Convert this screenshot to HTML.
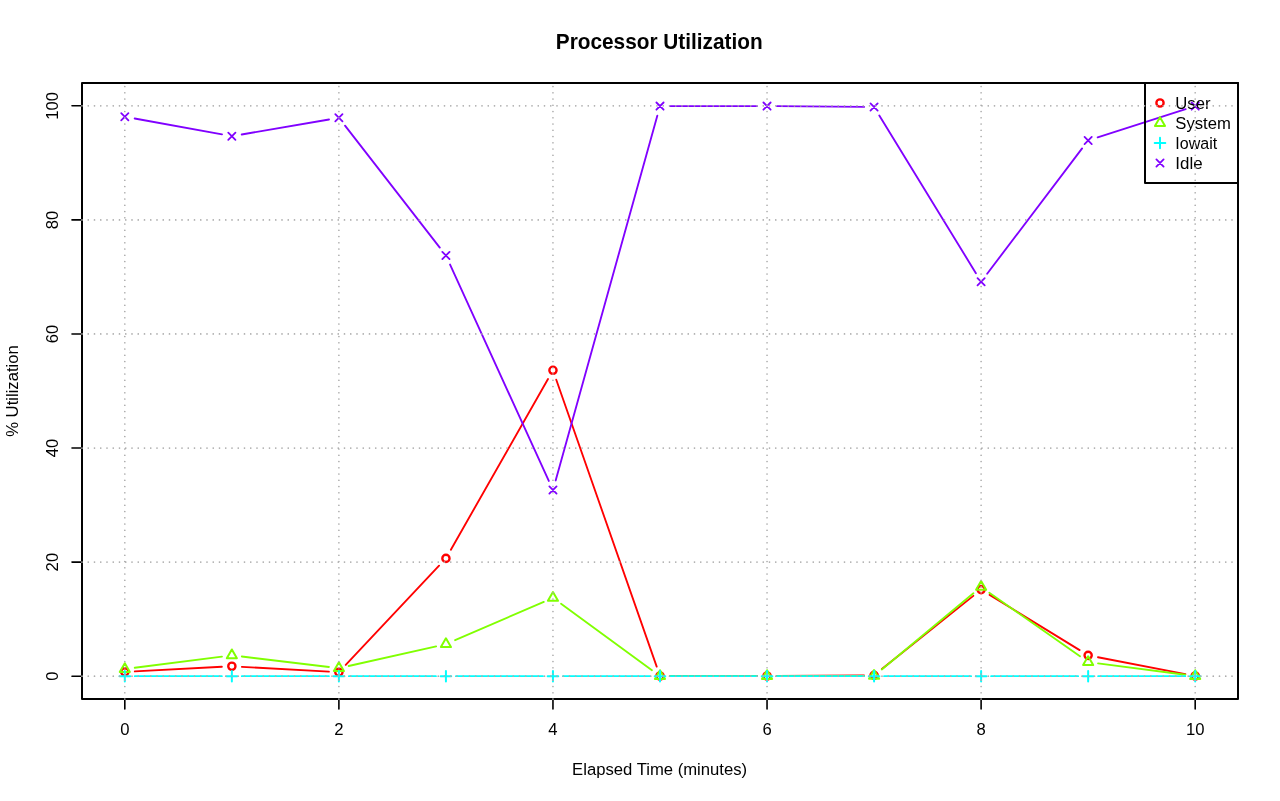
<!DOCTYPE html>
<html><head><meta charset="utf-8"><title>Processor Utilization</title>
<style>
html,body{margin:0;padding:0;background:#fff;}
svg{display:block;will-change:transform;opacity:0.999;}
text{font-family:"Liberation Sans",sans-serif;fill:#000;}
</style></head><body>
<svg width="1280" height="801" viewBox="0 0 1280 801">
<rect width="1280" height="801" fill="#fff"/>
<path d="M134.80 671.38L221.87 666.79M241.84 666.81L328.90 671.64M345.74 664.91L439.07 565.69M450.87 549.71L548.02 378.99M556.27 379.73L656.70 666.58M670.00 676.01L757.04 676.01M777.04 675.95L864.07 675.39M881.88 669.08L973.31 595.85M989.63 594.84L1079.63 650.13M1097.97 657.26L1185.37 674.12" fill="none" stroke="#FF0000" stroke-width="1.85" stroke-linecap="round"/>
<circle cx="124.81" cy="671.91" r="3.62" fill="none" stroke="#FF0000" stroke-width="2.35"/>
<circle cx="231.85" cy="666.26" r="3.62" fill="none" stroke="#FF0000" stroke-width="2.35"/>
<circle cx="338.89" cy="672.19" r="3.62" fill="none" stroke="#FF0000" stroke-width="2.35"/>
<circle cx="445.93" cy="558.40" r="3.62" fill="none" stroke="#FF0000" stroke-width="2.35"/>
<circle cx="552.96" cy="370.30" r="3.62" fill="none" stroke="#FF0000" stroke-width="2.35"/>
<circle cx="660.00" cy="676.01" r="3.62" fill="none" stroke="#FF0000" stroke-width="2.35"/>
<circle cx="767.04" cy="676.01" r="3.62" fill="none" stroke="#FF0000" stroke-width="2.35"/>
<circle cx="874.07" cy="675.33" r="3.62" fill="none" stroke="#FF0000" stroke-width="2.35"/>
<circle cx="981.11" cy="589.60" r="3.62" fill="none" stroke="#FF0000" stroke-width="2.35"/>
<circle cx="1088.15" cy="655.37" r="3.62" fill="none" stroke="#FF0000" stroke-width="2.35"/>
<circle cx="1195.19" cy="676.01" r="3.62" fill="none" stroke="#FF0000" stroke-width="2.35"/>
<path d="M134.73 667.78L221.93 656.58M241.78 656.51L328.96 667.00M348.65 666.01L436.17 646.38M455.10 640.22L543.79 601.84M561.04 603.77L651.93 670.17M670.00 676.07L757.04 676.07M777.04 676.06L864.07 675.92M881.76 669.51L973.42 593.31M989.29 592.67L1079.96 656.35M1098.06 663.39L1185.27 674.78" fill="none" stroke="#80FF00" stroke-width="1.85" stroke-linecap="round"/>
<path d="M124.81 663.22L129.87 671.97L119.76 671.97Z" fill="none" stroke="#80FF00" stroke-width="2.0" stroke-linejoin="round"/>
<path d="M231.85 649.48L236.90 658.23L226.80 658.23Z" fill="none" stroke="#80FF00" stroke-width="2.0" stroke-linejoin="round"/>
<path d="M338.89 662.37L343.94 671.12L333.84 671.12Z" fill="none" stroke="#80FF00" stroke-width="2.0" stroke-linejoin="round"/>
<path d="M445.93 638.36L450.98 647.10L440.88 647.10Z" fill="none" stroke="#80FF00" stroke-width="2.0" stroke-linejoin="round"/>
<path d="M552.96 592.04L558.01 600.79L547.91 600.79Z" fill="none" stroke="#80FF00" stroke-width="2.0" stroke-linejoin="round"/>
<path d="M660.00 670.24L665.05 678.99L654.95 678.99Z" fill="none" stroke="#80FF00" stroke-width="2.0" stroke-linejoin="round"/>
<path d="M767.04 670.24L772.09 678.99L761.99 678.99Z" fill="none" stroke="#80FF00" stroke-width="2.0" stroke-linejoin="round"/>
<path d="M874.07 670.07L879.12 678.82L869.02 678.82Z" fill="none" stroke="#80FF00" stroke-width="2.0" stroke-linejoin="round"/>
<path d="M981.11 581.09L986.16 589.84L976.06 589.84Z" fill="none" stroke="#80FF00" stroke-width="2.0" stroke-linejoin="round"/>
<path d="M1088.15 656.27L1093.20 665.01L1083.10 665.01Z" fill="none" stroke="#80FF00" stroke-width="2.0" stroke-linejoin="round"/>
<path d="M1195.19 670.24L1200.24 678.99L1190.13 678.99Z" fill="none" stroke="#80FF00" stroke-width="2.0" stroke-linejoin="round"/>
<path d="M134.81 676.19L221.85 676.19M241.85 676.19L328.89 676.19M348.89 676.19L435.93 676.19M455.93 676.19L542.96 676.19M562.96 676.19L650.00 676.19M670.00 676.19L757.04 676.19M777.04 676.19L864.07 676.19M884.07 676.19L971.11 676.19M991.11 676.19L1078.15 676.19M1098.15 676.19L1185.19 676.19" fill="none" stroke="#00FFFF" stroke-width="1.85" stroke-linecap="round"/>
<path d="M119.51 676.19H130.12M124.81 670.88V681.49" fill="none" stroke="#00FFFF" stroke-width="2.0" stroke-linecap="round"/>
<path d="M226.55 676.19H237.16M231.85 670.88V681.49" fill="none" stroke="#00FFFF" stroke-width="2.0" stroke-linecap="round"/>
<path d="M333.59 676.19H344.19M338.89 670.88V681.49" fill="none" stroke="#00FFFF" stroke-width="2.0" stroke-linecap="round"/>
<path d="M440.62 676.19H451.23M445.93 670.88V681.49" fill="none" stroke="#00FFFF" stroke-width="2.0" stroke-linecap="round"/>
<path d="M547.66 676.19H558.27M552.96 670.88V681.49" fill="none" stroke="#00FFFF" stroke-width="2.0" stroke-linecap="round"/>
<path d="M654.70 676.19H665.30M660.00 670.88V681.49" fill="none" stroke="#00FFFF" stroke-width="2.0" stroke-linecap="round"/>
<path d="M761.73 676.19H772.34M767.04 670.88V681.49" fill="none" stroke="#00FFFF" stroke-width="2.0" stroke-linecap="round"/>
<path d="M868.77 676.19H879.38M874.07 670.88V681.49" fill="none" stroke="#00FFFF" stroke-width="2.0" stroke-linecap="round"/>
<path d="M975.81 676.19H986.41M981.11 670.88V681.49" fill="none" stroke="#00FFFF" stroke-width="2.0" stroke-linecap="round"/>
<path d="M1082.84 676.19H1093.45M1088.15 670.88V681.49" fill="none" stroke="#00FFFF" stroke-width="2.0" stroke-linecap="round"/>
<path d="M1189.88 676.19H1200.49M1195.19 670.88V681.49" fill="none" stroke="#00FFFF" stroke-width="2.0" stroke-linecap="round"/>
<path d="M134.65 118.50L222.01 134.42M241.71 134.52L329.03 119.49M345.03 125.69L439.79 247.59M450.08 264.58L548.81 480.98M555.65 480.44L657.31 115.73M670.00 106.10L757.04 106.10M777.04 106.18L864.07 106.88M879.30 115.48L975.89 273.19M987.15 273.75L1082.11 148.41M1097.67 137.38L1185.66 109.15" fill="none" stroke="#8000FF" stroke-width="1.85" stroke-linecap="round"/>
<path d="M121.21 113.11L128.41 120.31M121.21 120.31L128.41 113.11" fill="none" stroke="#8000FF" stroke-width="1.8" stroke-linecap="round"/>
<path d="M228.25 132.62L235.45 139.82M228.25 139.82L235.45 132.62" fill="none" stroke="#8000FF" stroke-width="1.8" stroke-linecap="round"/>
<path d="M335.29 114.19L342.49 121.39M335.29 121.39L342.49 114.19" fill="none" stroke="#8000FF" stroke-width="1.8" stroke-linecap="round"/>
<path d="M442.33 251.88L449.53 259.08M442.33 259.08L449.53 251.88" fill="none" stroke="#8000FF" stroke-width="1.8" stroke-linecap="round"/>
<path d="M549.36 486.47L556.56 493.67M549.36 493.67L556.56 486.47" fill="none" stroke="#8000FF" stroke-width="1.8" stroke-linecap="round"/>
<path d="M656.40 102.50L663.60 109.70M656.40 109.70L663.60 102.50" fill="none" stroke="#8000FF" stroke-width="1.8" stroke-linecap="round"/>
<path d="M763.44 102.50L770.64 109.70M763.44 109.70L770.64 102.50" fill="none" stroke="#8000FF" stroke-width="1.8" stroke-linecap="round"/>
<path d="M870.47 103.36L877.67 110.56M870.47 110.56L877.67 103.36" fill="none" stroke="#8000FF" stroke-width="1.8" stroke-linecap="round"/>
<path d="M977.51 278.12L984.71 285.32M977.51 285.32L984.71 278.12" fill="none" stroke="#8000FF" stroke-width="1.8" stroke-linecap="round"/>
<path d="M1084.55 136.84L1091.75 144.04M1084.55 144.04L1091.75 136.84" fill="none" stroke="#8000FF" stroke-width="1.8" stroke-linecap="round"/>
<path d="M1191.59 102.50L1198.79 109.70M1191.59 109.70L1198.79 102.50" fill="none" stroke="#8000FF" stroke-width="1.8" stroke-linecap="round"/>
<rect x="82" y="83" width="1156" height="616" fill="none" stroke="#000" stroke-width="2" stroke-linejoin="round"/>
<path d="M124.81 699V709M338.89 699V709M552.96 699V709M767.04 699V709M981.11 699V709M1195.19 699V709M82 676.19H72M82 562.11H72M82 448.04H72M82 333.96H72M82 219.89H72M82 105.81H72" fill="none" stroke="#000" stroke-width="1.6" stroke-linecap="round"/>
<text x="124.81" y="735.3" font-size="16.67" text-anchor="middle">0</text>
<text x="338.89" y="735.3" font-size="16.67" text-anchor="middle">2</text>
<text x="552.96" y="735.3" font-size="16.67" text-anchor="middle">4</text>
<text x="767.04" y="735.3" font-size="16.67" text-anchor="middle">6</text>
<text x="981.11" y="735.3" font-size="16.67" text-anchor="middle">8</text>
<text x="1195.19" y="735.3" font-size="16.67" text-anchor="middle">10</text>
<text transform="translate(58 676.19) rotate(-90)" font-size="16.67" text-anchor="middle">0</text>
<text transform="translate(58 562.11) rotate(-90)" font-size="16.67" text-anchor="middle">20</text>
<text transform="translate(58 448.04) rotate(-90)" font-size="16.67" text-anchor="middle">40</text>
<text transform="translate(58 333.96) rotate(-90)" font-size="16.67" text-anchor="middle">60</text>
<text transform="translate(58 219.89) rotate(-90)" font-size="16.67" text-anchor="middle">80</text>
<text transform="translate(58 105.81) rotate(-90)" font-size="16.67" text-anchor="middle">100</text>
<text transform="translate(659.25 49.3) scale(1.0405 1.07)" font-size="20" font-weight="bold" text-anchor="middle">Processor Utilization</text>
<text x="659.6" y="775" font-size="16.67" text-anchor="middle">Elapsed Time (minutes)</text>
<text transform="translate(18 391) rotate(-90)" font-size="16.67" text-anchor="middle">% Utilization</text>
<rect x="1145" y="83" width="93" height="100" fill="none" stroke="#000" stroke-width="2" stroke-linejoin="round"/>
<circle cx="1160.00" cy="103.00" r="3.62" fill="none" stroke="#FF0000" stroke-width="2.35"/>
<text transform="translate(1175.3 108.7) scale(1.0 1)" font-size="16.67">User</text>
<path d="M1160.00 117.17L1165.05 125.92L1154.95 125.92Z" fill="none" stroke="#80FF00" stroke-width="2.0" stroke-linejoin="round"/>
<text transform="translate(1175.3 128.7) scale(1.0 1)" font-size="16.67">System</text>
<path d="M1154.70 143.00H1165.30M1160.00 137.70V148.30" fill="none" stroke="#00FFFF" stroke-width="2.0" stroke-linecap="round"/>
<text transform="translate(1175.3 148.7) scale(0.962 1)" font-size="16.67">Iowait</text>
<path d="M1156.40 159.40L1163.60 166.60M1156.40 166.60L1163.60 159.40" fill="none" stroke="#8000FF" stroke-width="1.8" stroke-linecap="round"/>
<text transform="translate(1175.3 168.7) scale(1.016 1)" font-size="16.67">Idle</text>
<path d="M124.81 699V83M338.89 699V83M552.96 699V83M767.04 699V83M981.11 699V83M1195.19 699V83M82 676.19H1238M82 562.11H1238M82 448.04H1238M82 333.96H1238M82 219.89H1238M82 105.81H1238" fill="none" stroke="#ADADAD" stroke-width="1.7" stroke-dasharray="0.01 6.24" stroke-linecap="round"/>
</svg></body></html>
